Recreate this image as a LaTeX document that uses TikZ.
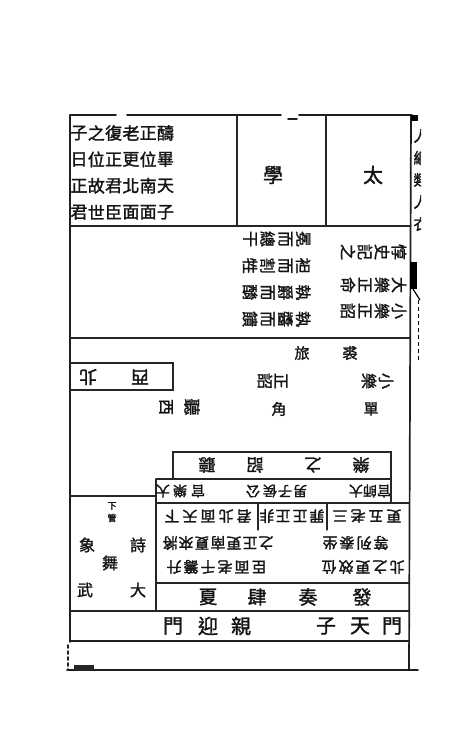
\documentclass[tikz,border=0pt]{standalone}
\usepackage{fontspec}
\newfontfamily\cjk[FakeBold=1.6]{Noto Sans CJK TC}
\begin{document}
\begin{tikzpicture}[x=1pt,y=-1pt,
  frame/.style={line width=1.7pt,black!88,line cap=round},
  rule/.style={line width=1.3pt,black!85,line cap=round},
  zh/.style={font=\cjk\fontsize{#1}{#1}\selectfont,inner sep=0pt,text=black!92},
  zh/.default=15]
\useasboundingbox (0,0) rectangle (475,750);
\fill[white] (0,0) rectangle (475,750);

% ---------- frame ----------
\draw[frame] (70,115) -- (116,115) (127,115) -- (281,115) (299,115) -- (412,115);
\draw[frame] (288,119) -- (297,119);
\draw[frame] (70,115) -- (70,642);
\draw[frame,dash pattern=on 3pt off 3pt] (68,645) -- (68,670);
\draw[frame] (411,115) -- (409,670);
\draw[frame] (67,670) -- (418,670);
\fill[black!85] (74,665) rectangle (94,671);
% top row dividers
\draw[rule] (237,115) -- (237,226);
\draw[rule] (326,115) -- (326,226);
\draw[rule] (70,226) -- (411,226);
\draw[rule] (70,338) -- (410,338);
% box north-west
\draw[rule] (70,363) -- (173,363) -- (173,390) -- (70,390);
% boxes of region 4
\draw[rule] (173,479) -- (173,452) -- (391,452) -- (391,503);
\draw[rule] (156,479) -- (391,479);
\draw[rule] (156,503) -- (409,503);
\draw[rule] (258,503) -- (258,530);
\draw[rule] (327,503) -- (327,530);
\draw[rule] (156,479) -- (156,611);
\draw[rule] (70,496) -- (156,496);
\draw[rule] (156,583) -- (409,583);
\draw[rule] (70,611) -- (409,611);
\draw[frame] (70,641) -- (409,641);

% ---------- margin strip (banxin) ----------
\fill[black] (411,115) rectangle (418,121);
\fill[black] (410,262) rectangle (417,289);
\draw[line width=1.2pt] (413,289) -- (420,300);
\draw[line width=0.8pt,dash pattern=on 4pt off 3pt] (418,300) -- (418,362);
\begin{scope}
  \clip (413,118) rectangle (421,232);
  \foreach \c [count=\i] in {人,綱,類,人,衣}
    \node[zh=15] (bx-\i) at (421,{136+22*(\i-1)}) {\c};
\end{scope}

% ---------- top row ----------
\foreach \row [count=\j] in {{子,之,復,老,正,醻},{日,位,正,更,位,畢},{正,故,君,北,南,天},{君,世,臣,面,面,子}} {
  \foreach \c [count=\i] in \row {
    \node[zh=17] (tl-\j-\i) at ({79+17.3*(\i-1)},{133+26.4*(\j-1)}) {\c};
  }
}
\node[zh=20] (xue) at (273,175) {學};
\node[zh=20] (tai) at (373,175) {太};

% ---------- second row (rotated text) ----------
\foreach \row [count=\j] in {{干,總,而,冕},{牲,割,而,袒},{酳,而,爵,執},{饋,而,醬,執}} {
  \foreach \c [count=\i] in \row {
    \node[zh=16,rotate=-90] (la-\j-\i) at ({250+17.7*(\i-1)},{239+26.7*(\j-1)}) {\c};
  }
}
\foreach \row/\y [count=\j] in {{之,記,史,惇}/252,{命,正,樂,大}/285,{詔,正,樂,小}/311} {
  \foreach \c [count=\i] in \row {
    \node[zh=16,rotate=-90] (ra-\j-\i) at ({348+17*(\i-1)},\y) {\c};
  }
}

% ---------- third row ----------
\node[zh=15] (lv) at (302,353) {旅};
\node[zh=15] (qiu) at (350,353) {裘};
\node[zh=16,rotate=-90] (yue1) at (369,381) {樂};
\node[zh=16,rotate=-90] (xiao1) at (386,381) {小};
\node[zh=16,rotate=-90] (zhao1) at (265,381) {詔};
\node[zh=16,rotate=-90] (zheng1) at (281,381) {正};
\node[zh=15] (jiao) at (279,409) {角};
\node[zh=15] (dan) at (371,409) {單};
\node[zh=16,rotate=-90] (xi2) at (166,407) {西};
\node[zh=17,rotate=-90] (ting2) at (192,407) {聽};
\node[zh=18,rotate=180] (bei) at (88,377) {北};
\node[zh=18,rotate=180] (xi) at (140,377) {西};

% ---------- fourth region (upside-down text) ----------
\foreach \c/\x [count=\i] in {聽/207,詔/255,之/313,樂/361}
  \node[zh=17,rotate=180] (b1-\i) at (\x,465) {\c};
\foreach \c/\x [count=\i] in {大/163,樂/180,官/198,公/253,侯/270,子/285,男/300,大/356,師/370,官/384}
  \node[zh=14,rotate=180] (b2-\i) at (\x,491) {\c};
\foreach \c/\x [count=\i] in {下/172,天/190,面/208,北/226,君/244,非/267,正/283,正/300,罪/317,三/340,老/358,五/376,更/394}
  \node[zh=15,rotate=180] (r1-\i) at (\x,516) {\c};
\foreach \c [count=\i] in {將,來,夏,南,更,正,之}
  \node[zh=15,rotate=180] (r2a-\i) at ({170+16*(\i-1)},543) {\c};
\foreach \c [count=\i] in {坐,泰,列,等}
  \node[zh=15,rotate=180] (r2b-\i) at ({330+17*(\i-1)},543) {\c};
\foreach \c [count=\i] in {升,籌,千,老,面,臣}
  \node[zh=15,rotate=180] (r3a-\i) at ({174+17*(\i-1)},567) {\c};
\foreach \c [count=\i] in {位,效,更,之,北}
  \node[zh=15,rotate=180] (r3b-\i) at ({329+17*(\i-1)},567) {\c};

% left sub-box
\node[zh=9] (xia) at (112,506) {下};
\node[zh=9] (guan) at (112,518) {管};
\node[zh=16] (shi) at (138,545) {詩};
\node[zh=16] (wu) at (110,563) {舞};
\node[zh=16] (xiang) at (87,545) {象};
\node[zh=16] (wu2) at (85,590) {武};
\node[zh=16] (da) at (138,590) {大};

% bottom rows
\foreach \c/\x [count=\i] in {夏/208,肆/257,奏/308,發/362}
  \node[zh=19] (f-\i) at (\x,597) {\c};
\foreach \c/\x [count=\i] in {門/173,迎/208,親/241,子/326,天/360,門/392}
  \node[zh=20] (m-\i) at (\x,626) {\c};
\end{tikzpicture}
\end{document}
